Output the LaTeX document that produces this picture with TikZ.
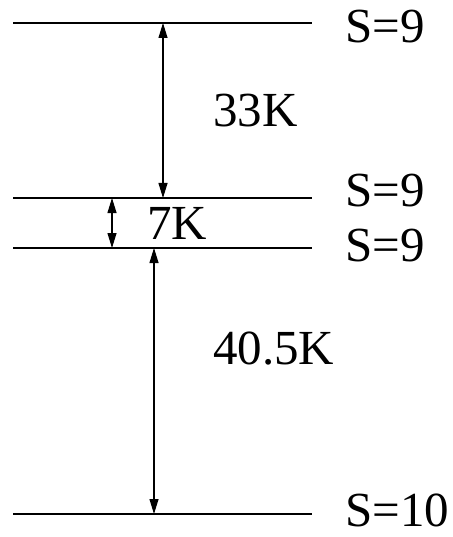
\documentclass[tikz,border=0pt]{standalone}
\usepackage{fontspec}
\setmainfont{Liberation Serif}
\usetikzlibrary{arrows.meta}
\begin{document}
\begin{tikzpicture}[x=1pt,y=-1pt,
  level/.style={line width=1.8pt},
  gap/.style={line width=1.1pt,{Triangle[length=15pt,width=9pt]}-{Triangle[length=15pt,width=9pt]}},
  lbl/.style={anchor=base west,inner sep=0pt,font=\fontsize{49}{50}\selectfont}]
\useasboundingbox (0,0) rectangle (452,537);
% levels
\coordinate (l1w) at (13,23);  \coordinate (l1e) at (312,23);
\coordinate (l2w) at (13,198); \coordinate (l2e) at (312,198);
\coordinate (l3w) at (13,248); \coordinate (l3e) at (312,248);
\coordinate (l4w) at (13,514); \coordinate (l4e) at (312,514);
\draw[level] (l1w) -- (l1e);
\draw[level] (l2w) -- (l2e);
\draw[level] (l3w) -- (l3e);
\draw[level] (l4w) -- (l4e);
% arrow endpoints
\coordinate (a1t) at (163,23);  \coordinate (a1b) at (163,198);
\coordinate (a2t) at (112,198); \coordinate (a2b) at (112,248);
\coordinate (a3t) at (154,248); \coordinate (a3b) at (154,514);
\draw[gap] (a1t) -- (a1b);
\draw[gap] (a2t) -- (a2b);
\draw[gap] (a3t) -- (a3b);
% labels
\node[lbl] (s1) at (345,43) {S=9};
\node[lbl] (s2) at (345,207) {S=9};
\node[lbl] (s3) at (345,261) {S=9};
\node[lbl] (s4) at (345,526) {S=10};
\node[lbl] (e1) at (213,127) {33K};
\node[lbl] (e2) at (147,239) {7K};
\node[lbl] (e3) at (213,364) {40.5K};
\end{tikzpicture}
\end{document}
